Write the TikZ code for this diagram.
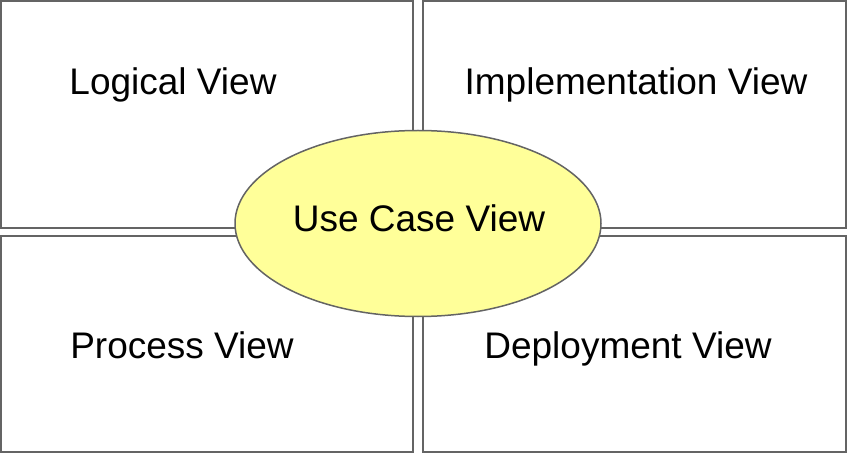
\documentclass[tikz,border=0pt]{standalone}
\usepackage{fontspec}
\setmainfont{Liberation Sans}
\usetikzlibrary{shapes.geometric}
\definecolor{edge}{HTML}{646464}
\definecolor{ufill}{HTML}{FFFF99}
\begin{document}
\begin{tikzpicture}[x=1pt,y=-1pt,
  viewbox/.style={draw=edge,line width=2pt,fill=white},
  lbl/.style={anchor=base,inner sep=0pt,font=\fontsize{37}{42}\selectfont}]
\useasboundingbox (0,0) rectangle (848,454);
\fill[white] (0,0) rectangle (848,454);
\draw[viewbox] (1,1) rectangle (413,228);
\draw[viewbox] (423,1) rectangle (846,228);
\draw[viewbox] (1,236) rectangle (413,452);
\draw[viewbox] (423,236) rectangle (846,452);
\node[lbl] (logical) at (173,95) {Logical View};
\node[lbl] (impl) at (636,95) {Implementation View};
\node[lbl] (process) at (182,358) {Process View};
\node[lbl] (deploy) at (628,358) {Deployment View};
\node[ellipse,draw=edge,line width=1.5pt,fill=ufill,minimum width=366pt,minimum height=186pt,inner sep=0pt] (uc) at (418,223.5) {};
\node[lbl] (uctext) at (419,232) {Use Case View};
\end{tikzpicture}
\end{document}
